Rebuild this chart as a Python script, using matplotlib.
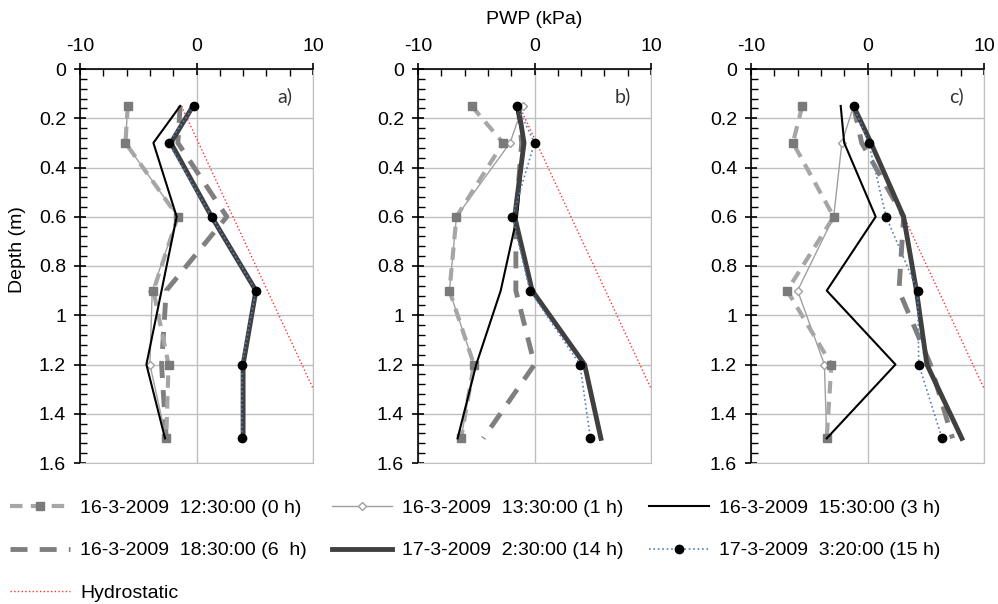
import matplotlib
matplotlib.use("Agg")
import matplotlib.pyplot as plt
from matplotlib.ticker import MultipleLocator
from matplotlib.lines import Line2D

plt.rcParams['font.family'] = ['Liberation Sans', 'DejaVu Sans']
plt.rcParams['axes.unicode_minus'] = False

# depth of sensors (m)
depth = [0.15, 0.3, 0.6, 0.9, 1.2, 1.5]

# PWP (kPa) per panel, per time
a_0h = [-5.9, -6.1, -1.6, -3.7, -2.4, -2.6]
a_1h = [-5.9, -6.1, -1.6, -3.8, -4.0, -2.6]
a_3h = [-1.4, -3.7, -1.7, -3.0, -4.3, -2.7]
a_6h = [-1.4, -1.6, 2.6, -2.6, -3.0, -2.6]
a_14h = [-0.3, -2.2, 1.3, 5.1, 4.0, 4.0]
a_15h = [-0.2, -2.4, 1.3, 5.1, 3.9, 3.9]

b_0h = [-5.4, -2.7, -6.7, -7.3, -5.2, -6.3]
b_1h = [-1.0, -2.1, -6.7, -7.3, -5.2, -6.3]
b_3h = [-1.6, -0.9, -1.5, -2.9, -5.0, -6.6]
b_6h = [-1.4, -1.1, -1.6, -1.6, 0.0, -4.4]
b_14h = [-1.4, -0.9, -1.7, -0.2, 4.3, 5.7]
b_15h = [-1.5, 0.0, -1.9, -0.4, 3.9, 4.8]

c_0h = [-5.6, -6.4, -2.9, -6.9, -3.1, -3.5]
c_1h = [-1.2, -2.2, -2.9, -6.0, -3.7, -3.5]
c_3h = [-2.3, -2.0, 0.7, -3.5, 2.4, -3.5]
c_6h = [-1.2, -0.5, 3.1, 2.7, 5.4, 7.3]
c_14h = [-1.2, 0.3, 3.1, 4.2, 5.1, 8.1]
c_15h = [-1.2, 0.1, 1.6, 4.3, 4.4, 6.4]

hydro_depth = [0.15, 1.5]
hydro_pwp = [-1.3, 12.0]

labels = ['16-3-2009  12:30:00 (0 h)', '16-3-2009  13:30:00 (1 h)',
          '16-3-2009  15:30:00 (3 h)', '16-3-2009  18:30:00 (6  h)',
          '17-3-2009  2:30:00 (14 h)', '17-3-2009  3:20:00 (15 h)',
          'Hydrostatic']

panels = [
    ('a)', [a_0h, a_1h, a_3h, a_6h, a_14h, a_15h]),
    ('b)', [b_0h, b_1h, b_3h, b_6h, b_14h, b_15h]),
    ('c)', [c_0h, c_1h, c_3h, c_6h, c_14h, c_15h]),
]

styles = [
    dict(color='#a6a6a6', lw=3, dashes=(3, 2), marker='s', ms=6,
         mfc='#7a7a7a', mec='#7a7a7a', zorder=4.5),
    dict(color='#a0a0a0', lw=1, marker='D', ms=4, mfc='white',
         mec='#a0a0a0', zorder=4),
    dict(color='black', lw=1.5, zorder=5),
    dict(color='#7f7f7f', lw=3.5, dashes=(3.5, 2.5), zorder=3),
    dict(color='#404040', lw=3.5, zorder=6),
    dict(color='#4f81bd', lw=1.2, ls=':', marker='o', ms=6,
         mfc='black', mec='black', zorder=7),
]
hydro_style = dict(color='#ff3030', lw=1, ls=':', zorder=2)

fig = plt.figure(figsize=(9.98, 6.04), dpi=100)
lefts = [80, 418, 751]
grid_c = '#bfbfbf'

for left, (tag, series) in zip(lefts, panels):
    ax = fig.add_axes([left / 998, 1 - 463 / 604, 233 / 998, 394 / 604])
    for vals, st in zip(series, styles):
        ax.plot(vals, depth, **st)
    ax.plot(hydro_pwp, hydro_depth, **hydro_style)
    ax.set_xlim(-10, 10)
    ax.set_ylim(1.6, 0)
    ax.xaxis.tick_top()
    ax.xaxis.set_major_locator(MultipleLocator(10))
    ax.xaxis.set_minor_locator(MultipleLocator(2))
    ax.yaxis.set_major_locator(MultipleLocator(0.2))
    ax.yaxis.set_minor_locator(MultipleLocator(0.04))
    ax.yaxis.set_major_formatter(plt.FuncFormatter(lambda v, p: ('%.1f' % v).rstrip('0').rstrip('.') if v else '0'))
    ax.grid(True, which='major', color=grid_c, lw=1)
    ax.set_axisbelow(True)
    ax.spines['right'].set_color(grid_c)
    ax.spines['bottom'].set_color(grid_c)
    ax.spines['top'].set_linewidth(1.2)
    ax.spines['left'].set_linewidth(1.2)
    ax.tick_params(which='major', direction='inout', length=8, width=1.2,
                   labelsize=14, pad=6)
    ax.tick_params(which='minor', direction='in', length=5, width=1)
    ax.tick_params(axis='x', which='both', top=True, bottom=False)
    ax.tick_params(axis='y', which='both', right=False)
    ax.text(0.88, 0.93, tag, transform=ax.transAxes, fontsize=14,
            family=['Lato', 'DejaVu Sans'], color='#333333', ha='center', va='center')

fig.text(534 / 998, 1 - 20 / 604, 'PWP (kPa)', ha='center', va='center', fontsize=14)
fig.text(18 / 998, 1 - 250 / 604, 'Depth (m)', ha='center', va='center',
         rotation=90, fontsize=14)

handles = []
for st in styles:
    handles.append(Line2D([], [], **{k: v for k, v in st.items() if k != 'zorder'}))
handles.append(Line2D([], [], **{k: v for k, v in hydro_style.items() if k != 'zorder'}))

order = [0, 3, 6, 1, 4, 2, 5]
fig.legend([handles[i] for i in order], [labels[i] for i in order],
           ncol=3, loc='upper left', bbox_to_anchor=(10 / 998, 1 - 499 / 604),
           frameon=False, fontsize=14, handlelength=3.1, handletextpad=0.5,
           columnspacing=1.3, labelspacing=1.29, borderpad=0, borderaxespad=0,
           markerscale=1)

fig.savefig('out.png', dpi=100)
